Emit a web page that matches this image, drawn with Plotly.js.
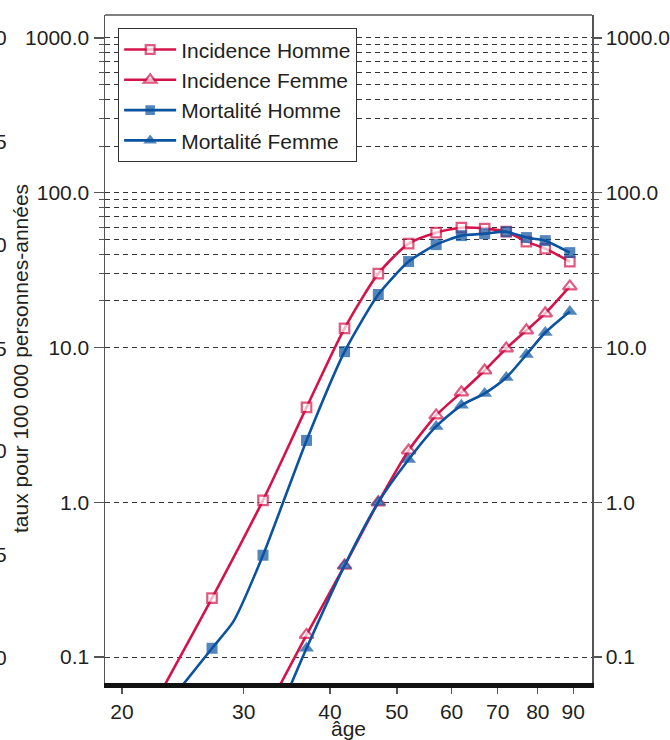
<!DOCTYPE html>
<html>
<head>
<meta charset="utf-8">
<script src="https://cdn.plot.ly/plotly-3.0.1.min.js"></script>
<style>html,body{margin:0;padding:0;background:#fff;}#chart{width:670px;height:740px;}</style>
</head>
<body>
<div id="chart"></div>
<script>
// ---- data ----
const agesH = [22, 27, 32, 37, 42, 47, 52, 57, 62, 67, 72, 77, 82, 89];
const incidenceHomme = [0.045, 0.24, 1.03, 4.1, 13.3, 30, 46.9, 55.2, 59.4, 58.6, 56, 48.3, 43.5, 35.9];
const markHomme = [0, 1, 1, 1, 1, 1, 1, 1, 1, 1, 1, 1, 1, 1];

const agesMH = [24, 27, 29, 32, 37, 42, 47, 52, 57, 62, 67, 72, 77, 82, 89];
const mortaliteHomme = [0.059, 0.114, 0.17, 0.455, 2.51, 9.4, 22, 35.9, 46.2, 52.8, 54.3, 56, 51.3, 49, 41];
const markMH = [0, 1, 0, 1, 1, 1, 1, 1, 1, 1, 1, 1, 1, 1, 1];

const agesIF = [33, 37, 42, 47, 52, 57, 62, 67, 72, 77, 82, 89];
const incidenceFemme = [0.053, 0.139, 0.39, 1.0, 2.16, 3.64, 5.13, 7.1, 9.86, 12.9, 16.6, 24.8];
const markIF = [0, 1, 1, 1, 1, 1, 1, 1, 1, 1, 1, 1];

const agesMF = [34.5, 37, 42, 47, 52, 57, 62, 67, 72, 77, 82, 89];
const mortaliteFemme = [0.055, 0.114, 0.39, 1.0, 1.89, 3.09, 4.23, 5.05, 6.4, 9.0, 12.5, 17.1];
const markMF = [0, 1, 1, 1, 1, 1, 1, 1, 1, 1, 1, 1];

const seriesNames = ['Incidence Homme', 'Incidence Femme', 'Mortalité Homme', 'Mortalité Femme'];

const xTickVals = [20, 30, 40, 50, 60, 70, 80, 90];
const xTickText = ['20', '30', '40', '50', '60', '70', '80', '90'];
const yTickVals = [0.1, 1, 10, 100, 1000];
const yTickText = ['0.1', '1.0', '10.0', '100.0', '1000.0'];
const yMinorVals = [20, 30, 40, 50, 60, 70, 80, 90, 200, 300, 400, 500, 600, 700, 800, 900];
const yTitle = 'taux pour 100 000 personnes-années';
const xTitle = 'âge';
// fragments of the neighbouring figure's labels, cut by the left edge
const edgeLabels = ['0', '5', '0', '5', '0', '5', '0'];

// ---- styles ----
const RED = '#d3134a';
const BLUE = '#0b53a0';
const FONT = 'Liberation Sans, Arial, Helvetica, sans-serif';
const TXT = '#231f20';
const FS = 21;

function sizes(mask, s) { return mask.map(m => m ? s : 0); }

const traces = [
  {
    x: agesH, y: incidenceHomme, name: seriesNames[0], type: 'scatter', mode: 'lines+markers',
    line: {color: RED, width: 2.6, shape: 'spline', smoothing: 0.7},
    marker: {symbol: 'square', size: sizes(markHomme, 9.5), color: '#ffffff', line: {color: RED, width: 2.2}}
  },
  {
    x: agesIF, y: incidenceFemme, name: seriesNames[1], type: 'scatter', mode: 'lines+markers',
    line: {color: RED, width: 2.6, shape: 'spline', smoothing: 0.7},
    marker: {symbol: 'triangle-up', size: sizes(markIF, 12), color: '#ffffff', line: {color: RED, width: 2.2}}
  },
  {
    x: agesMH, y: mortaliteHomme, name: seriesNames[2], type: 'scatter', mode: 'lines+markers',
    line: {color: BLUE, width: 2.6, shape: 'spline', smoothing: 0.6},
    marker: {symbol: 'square', size: sizes(markMH, 11), color: BLUE, line: {width: 0}}
  },
  {
    x: agesMF, y: mortaliteFemme, name: seriesNames[3], type: 'scatter', mode: 'lines+markers',
    line: {color: BLUE, width: 2.6, shape: 'spline', smoothing: 0.7},
    marker: {symbol: 'triangle-up', size: sizes(markMF, 13), color: BLUE, line: {width: 0}}
  }
];

const yRange = [Math.log10(0.068), 3.148];
const yCommon = {
  type: 'log', range: yRange, tickmode: 'array', tickvals: yTickVals, ticktext: yTickText,
  ticks: 'outside', ticklen: 10, tickwidth: 1.3, tickcolor: '#555',
  showline: true, linecolor: '#555', linewidth: 1.5,
  tickfont: {family: FONT, size: FS, color: TXT},
  zeroline: false,
  minor: {tickvals: yMinorVals, ticks: 'outside', ticklen: 5, tickwidth: 1, tickcolor: '#555', showgrid: false}
};

// plot area in pixels: left 105, right 592, top 15, bottom 683
const edgeYpix = [38, 141, 244, 348, 451, 554, 657];
const annotations = edgeLabels.map((t, i) => ({
  text: t, xref: 'paper', yref: 'paper', x: (9 - 105) / 487, y: (683 - edgeYpix[i]) / 668,
  xanchor: 'right', yanchor: 'middle', showarrow: false,
  font: {family: FONT, size: FS, color: TXT}
}));
annotations.push({
  text: yTitle, textangle: -90, xref: 'paper', yref: 'paper',
  x: (20 - 105) / 487, y: (683 - 359) / 668, xanchor: 'center', yanchor: 'middle', showarrow: false,
  font: {family: FONT, size: FS, color: TXT}
});

const layout = {
  width: 670, height: 740,
  margin: {l: 105, r: 78, t: 15, b: 57, pad: 0},
  paper_bgcolor: '#ffffff', plot_bgcolor: '#ffffff',
  showlegend: true,
  legend: {
    x: 0.027, y: 0.98, xanchor: 'left', yanchor: 'top',
    bgcolor: '#ffffff', bordercolor: '#333', borderwidth: 1,
    font: {family: FONT, size: FS, color: TXT},
    itemwidth: 52, tracegroupgap: 0
  },
  xaxis: {
    type: 'log', range: [1.2764, 1.9815], tickmode: 'array', tickvals: xTickVals, ticktext: xTickText,
    ticks: 'outside', ticklen: 6, tickwidth: 1.3, tickcolor: '#555',
    showline: true, linecolor: '#111', linewidth: 5, showgrid: false, zeroline: false,
    tickfont: {family: FONT, size: FS, color: TXT},
    title: {text: xTitle, font: {family: FONT, size: FS, color: TXT}, standoff: 1}
  },
  yaxis: Object.assign({}, yCommon, {
    side: 'left', showgrid: true, gridcolor: '#333', gridwidth: 1, griddash: '5px,4px',
    minor: Object.assign({}, yCommon.minor, {showgrid: true, gridcolor: '#333', gridwidth: 1, griddash: '5px,4px'})
  }),
  yaxis2: Object.assign({}, yCommon, {
    side: 'right', overlaying: 'y', showgrid: false, anchor: 'x', ticklen: 8
  }),
  shapes: [
    {type: 'line', xref: 'paper', yref: 'paper', x0: 0, x1: 1, y0: 1, y1: 1, line: {color: '#555', width: 1.5}}
  ],
  annotations: annotations
};

traces.push({x: [50], y: [1], yaxis: 'y2', type: 'scatter', mode: 'markers', marker: {opacity: 0}, showlegend: false, hoverinfo: 'skip'});

Plotly.newPlot('chart', traces, layout, {staticPlot: true, displayModeBar: false});
</script>
</body>
</html>
